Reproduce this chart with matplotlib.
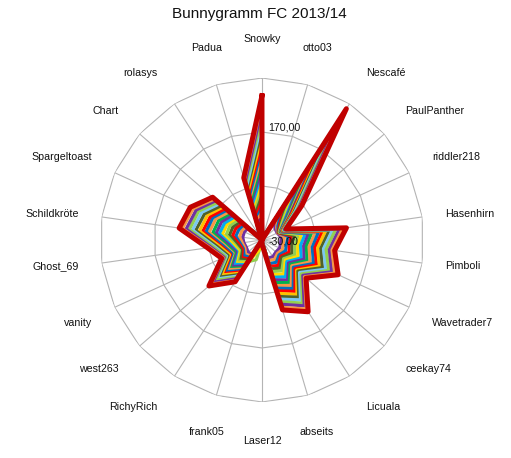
import numpy as np
import matplotlib
matplotlib.use("Agg")
import matplotlib.pyplot as plt

plt.rcParams["font.family"] = ["Liberation Sans", "DejaVu Sans"]

TITLE = "Bunnygramm FC 2013/14"

PLAYERS = ["Snowky", "otto03", "Nescafé", "PaulPanther", "riddler218", "Hasenhirn",
           "Pimboli", "Wavetrader7", "ceekay74", "Licuala", "abseits", "Laser12",
           "frank05", "RichyRich", "west263", "vanity", "Ghost_69", "Schildkröte",
           "Spargeltoast", "Chart", "rolasys", "Padua"]

# one list per player, 20 series from the innermost to the outermost (red) one
SNOWKY = [10, 22, 33, 46, 57, 70, 81, 94, 105, 117, 129, 141, 152, 165, 176, 189, 200, 213, 225, 237]
OTTO03 = [-26, -27, -25, -28, -26, -29, -27, -28, -30, -29, -30, -30, -30, -30, -30, -30, -30, -30, -30, -30]
NESCAFE = [12, 25, 37, 50, 62, 76, 88, 101, 113, 127, 139, 152, 165, 178, 190, 203, 216, 229, 244, 259]
PAULPANTHER = [2, 6, 9, 13, 16, 19, 22, 25, 28, 31, 35, 38, 41, 45, 48, 52, 56, 60, 64, 68]
RIDDLER218 = [1, 2, 3, 3, 4, 5, 6, 7, 7, 8, 9, 10, 11, 12, 13, 14, 15, 16, 18, 19]
HASENHIRN = [6, 12, 19, 25, 31, 38, 44, 51, 57, 63, 70, 76, 83, 89, 96, 102, 108, 115, 121, 128]
PIMBOLI = [5, 10, 16, 21, 26, 32, 37, 42, 48, 53, 58, 64, 69, 74, 80, 85, 90, 96, 101, 106]
WAVETRADER7 = [6, 12, 18, 25, 31, 37, 43, 50, 56, 62, 68, 75, 81, 87, 93, 100, 106, 112, 118, 125]
CEEKAY74 = [4, 8, 12, 16, 19, 23, 27, 31, 35, 39, 43, 47, 51, 55, 58, 62, 66, 70, 74, 78]
LICUALA = [7, 13, 19, 26, 32, 38, 45, 51, 58, 64, 70, 77, 83, 90, 96, 102, 109, 115, 122, 128]
ABSEITS = [5, 10, 16, 21, 26, 31, 37, 42, 47, 52, 58, 63, 68, 73, 79, 84, 89, 94, 100, 105]
LASER12 = [-29, -28, -28, -27, -27, -26, -26, -26, -25, -25, -25, -24, -24, -24, -23, -23, -23, -22, -22, -22]
FRANK05 = [-28, -27, -26, -25, -24, 8, -10, -30, -30, -30, -30, -30, -30, -30, -30, -30, -30, -30, -30, -30]
RICHYRICH = [3, 6, 9, 12, 15, 18, 21, 24, 27, 31, 34, 37, 40, 43, 46, 49, 52, 55, 59, 62]
WEST263 = [4, 10, 14, 20, 24, 30, 35, 39, 45, 50, 54, 60, 65, 69, 75, 80, 84, 90, 95, 100]
VANITY = [2, 5, 8, 10, 13, 16, 18, 21, 23, 26, 29, 31, 34, 36, 39, 42, 44, 47, 49, 52]
GHOST_69 = [4, 7, 11, 14, 18, 22, 25, 29, 32, 36, 40, 43, 47, 50, 54, 58, 61, 65, 68, 72]
SCHILDKROETE = [6, 12, 19, 25, 31, 37, 44, 50, 56, 62, 69, 75, 81, 87, 94, 100, 106, 112, 119, 125]
SPARGELTOAST = [6, 11, 17, 23, 29, 35, 41, 46, 52, 58, 64, 70, 75, 81, 87, 93, 99, 104, 110, 116]
CHART = [4, 9, 14, 18, 23, 27, 32, 36, 41, 46, 50, 55, 59, 64, 68, 73, 77, 82, 86, 91]
ROLASYS = [-20, -22, -24, -25, -26, -27, -28, -28, -29, -29, -30, -30, -30, -30, -30, -30, -30, -30, -30, -30]
PADUA = [5, 9, 14, 18, 23, 27, 32, 36, 41, 45, 50, 54, 59, 63, 68, 72, 77, 81, 86, 90]

VALUES = [SNOWKY, OTTO03, NESCAFE, PAULPANTHER, RIDDLER218, HASENHIRN, PIMBOLI,
          WAVETRADER7, CEEKAY74, LICUALA, ABSEITS, LASER12, FRANK05, RICHYRICH,
          WEST263, VANITY, GHOST_69, SCHILDKROETE, SPARGELTOAST, CHART, ROLASYS, PADUA]

R_MIN, R_MAX = -30, 270
RINGS = [70, 170, 270]
TICK_LABELS = [(-30, "-30,00"), (170, "170,00")]

# series colours, outermost first
COLORS = ["#c00000", "#f79646", "#7030a0", "#92d050", "#7cc8f2", "#4f6228", "#ffc000",
          "#ff0000", "#0070c0", "#f79646", "#00b050", "#7030a0", "#00b0f0", "#ffd800",
          "#92d050", "#4f6228", "#ff0000", "#0070c0", "#f79646", "#7030a0"]

GRID = "#b4b4b4"

fig = plt.figure(figsize=(5.11, 4.58), dpi=100)
ax = fig.add_axes([0.1957, 0.1223, 0.634, 0.7074], projection="polar")
ax.set_theta_zero_location("N")
ax.set_theta_direction(-1)
ax.set_ylim(R_MIN, R_MAX)
ax.grid(False)
ax.spines["polar"].set_visible(False)
ax.set_xticks([])
ax.set_yticks([])
ax.patch.set_visible(False)

n = len(PLAYERS)
theta = np.arange(n) * 2 * np.pi / n
closed = np.append(theta, theta[0])

# polygon web
for ring in RINGS:
    ax.plot(closed, [ring] * (n + 1), color=GRID, lw=0.8, zorder=1)
for t in theta:
    ax.plot([t, t], [R_MIN, R_MAX], color=GRID, lw=0.8, zorder=1)

# series, innermost first so the outer red one ends on top
data = np.array(VALUES).T
n_series = data.shape[0]
for i, row in enumerate(data):
    color = COLORS[n_series - 1 - i]
    lw = 3.6 if i == n_series - 1 else 2.3
    ax.plot(closed, np.append(row, row[0]), color=color, lw=lw,
            solid_joinstyle="round", zorder=3 + i, clip_on=False)

# value labels on the vertical axis (drawn under the red outline)
for r, txt in TICK_LABELS:
    dy = 3.6 if r > R_MIN else -1.0
    ax.annotate(txt, xy=(0, r), xytext=(4.5, dy), textcoords="offset points",
                ha="left", va="center", fontsize=7.7, color="#111111",
                zorder=3 + n_series - 1.5)

# category labels around the web
px_per_unit = 162 / (R_MAX - R_MIN)
for t, name in zip(theta, PLAYERS):
    s, c = np.sin(t), np.cos(t)
    ha = "center" if abs(s) < 0.3 else ("left" if s > 0 else "right")
    va = "center" if abs(c) < 0.3 else ("bottom" if c > 0 else "top")
    rho = np.hypot(185 * s, 196 * c)
    ax.text(t, R_MIN + rho / px_per_unit, name, ha=ha, va=va, fontsize=7.7,
            color="#111111", clip_on=False)

fig.text(0.507, 1 - 14 / 458, TITLE, ha="center", va="center", fontsize=11, color="#111111")

fig.savefig("out.png", dpi=100, facecolor="white")
